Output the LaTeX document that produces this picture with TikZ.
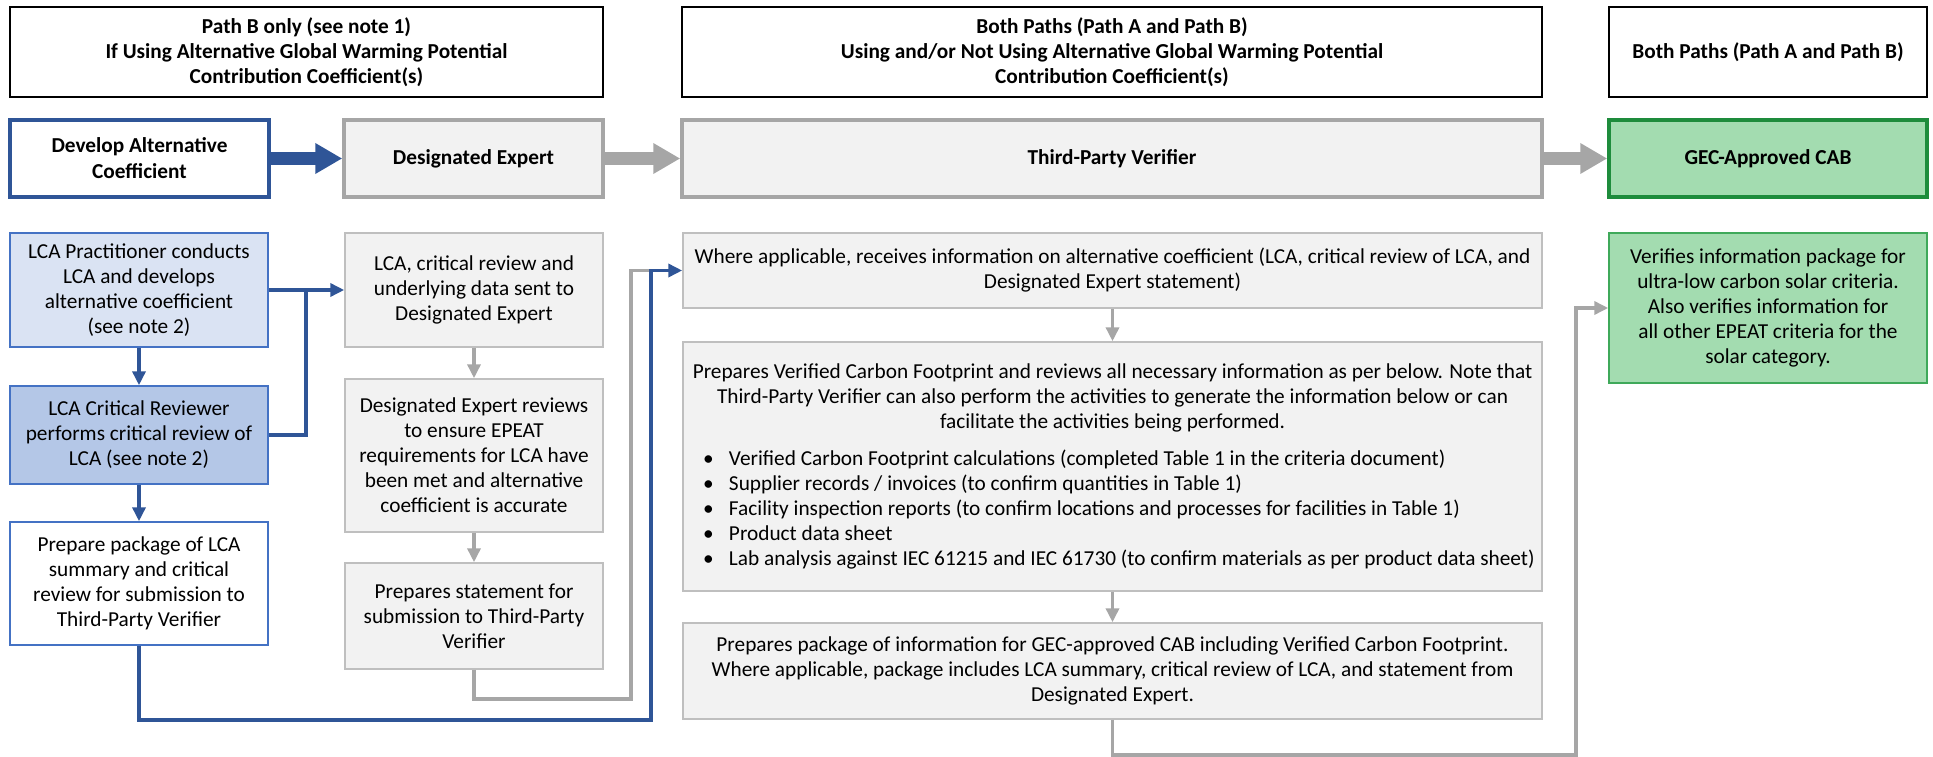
\documentclass[tikz,border=0pt]{standalone}
\usepackage{fontspec}
\setmainfont{Carlito}
\usetikzlibrary{arrows.meta}
\definecolor{dblue}{HTML}{2F5597}
\definecolor{mblue}{HTML}{4472C4}
\definecolor{lblue}{HTML}{DAE3F3}
\definecolor{mfblue}{HTML}{B4C7E7}
\definecolor{gfill}{HTML}{F2F2F2}
\definecolor{gline}{HTML}{BFBFBF}
\definecolor{gthick}{HTML}{A6A6A6}
\definecolor{grfill}{HTML}{A3DCB0}
\definecolor{grdark}{HTML}{1E8C3C}
\definecolor{grmid}{HTML}{3FA95A}
\newcommand\bitem[1]{\makebox[819pt][l]{\makebox[26pt][l]{\textbullet}#1}}
\begin{document}
\begin{tikzpicture}[x=1pt,y=-1pt,
  base/.style={rectangle, inner sep=0pt, align=center, font=\fontsize{21.3}{25}\selectfont},
  hdr/.style={base, draw=black, line width=1.6pt, fill=white, font=\bfseries\fontsize{21.3}{25}\selectfont},
  headblue/.style={base, draw=dblue, line width=3.5pt, fill=white, font=\bfseries\fontsize{21.3}{26}\selectfont},
  headgray/.style={base, draw=gthick, line width=3.5pt, fill=gfill, font=\bfseries\fontsize{21.3}{25}\selectfont},
  headgreen/.style={base, draw=grdark, line width=3.5pt, fill=grfill, font=\bfseries\fontsize{21.3}{25}\selectfont},
  lbbox/.style={base, draw=mblue, line width=1.5pt, fill=lblue},
  mbbox/.style={base, draw=mblue, line width=1.5pt, fill=mfblue},
  wbbox/.style={base, draw=mblue, line width=1.5pt, fill=white},
  graybox/.style={base, draw=gline, line width=1.5pt, fill=gfill},
  greenbox/.style={base, draw=grmid, line width=1.5pt, fill=grfill},
  bigblue/.style={draw=dblue, line width=13pt, -{Triangle[length=27pt,width=29pt]}},
  biggray/.style={draw=gthick, line width=13pt, -{Triangle[length=27pt,width=29pt]}},
  bluearr/.style={draw=dblue, line width=3.5pt, -{Triangle[length=14pt,width=13pt]}},
  blueline/.style={draw=dblue, line width=3.5pt},
  grayarr/.style={draw=gthick, line width=3.5pt, -{Triangle[length=14pt,width=13pt]}},
  grayline/.style={draw=gthick, line width=3.5pt}
]
\useasboundingbox (0,0) rectangle (1933,757);

% header row
\node[hdr, minimum width=593pt, minimum height=90pt] (h1) at (306.5,52) {Path B only (see note 1)\\If Using Alternative Global Warming Potential\\Contribution Coefficient(s)};
\node[hdr, minimum width=860pt, minimum height=90pt] (h2) at (1112,52) {Both Paths (Path A and Path B)\\Using and/or Not Using Alternative Global Warming Potential\\Contribution Coefficient(s)};
\node[hdr, minimum width=318pt, minimum height=90pt] (h3) at (1768,52) {Both Paths (Path A and Path B)};

% role row
\node[headblue, minimum width=259pt, minimum height=77pt] (dev) at (139.5,158.5) {Develop Alternative\\Coefficient};
\node[headgray, minimum width=259pt, minimum height=77pt] (deh) at (473.5,158.5) {Designated Expert};
\node[headgray, minimum width=860pt, minimum height=77pt] (tpvh) at (1112,158.5) {Third-Party Verifier};
\node[headgreen, minimum width=318pt, minimum height=77pt] (cabh) at (1768,158.5) {GEC-Approved CAB};

\draw[bigblue] (dev.east) -- (deh.west);
\draw[biggray] (deh.east) -- (tpvh.west);
\draw[biggray] (tpvh.east) -- (cabh.west);

% left column
\node[lbbox, minimum width=258pt, minimum height=114pt] (prac) at (139,290) {LCA Practitioner conducts\\LCA and develops\\alternative coefficient\\(see note 2)};
\node[mbbox, minimum width=258pt, minimum height=98pt] (rev) at (139,435) {LCA Critical Reviewer\\performs critical review of\\LCA (see note 2)};
\node[wbbox, minimum width=258pt, minimum height=123pt] (prep) at (139,583.5) {Prepare package of LCA\\summary and critical\\review for submission to\\Third-Party Verifier};

% designated expert column
\node[graybox, minimum width=258pt, minimum height=114pt] (de1) at (474,290) {LCA, critical review and\\underlying data sent to\\Designated Expert};
\node[graybox, minimum width=258pt, minimum height=153pt] (de2) at (474,455.5) {Designated Expert reviews\\to ensure EPEAT\\requirements for LCA have\\been met and alternative\\coefficient is accurate};
\node[graybox, minimum width=258pt, minimum height=106pt] (de3) at (474,616) {Prepares statement for\\submission to Third-Party\\Verifier};

% third-party verifier column
\node[graybox, minimum width=859pt, minimum height=75pt] (tpv1) at (1112.5,270.5) {Where applicable, receives information on alternative coefficient (LCA, critical review of LCA, and\\Designated Expert statement)};
\node[graybox, minimum width=859pt, minimum height=249pt] (tpv2) at (1112.5,466.5) {Prepares Verified Carbon Footprint and reviews all necessary information as per below. Note that\\Third-Party Verifier can also perform the activities to generate the information below or can\\facilitate the activities being performed.\\[12pt]
\bitem{Verified Carbon Footprint calculations (completed Table 1 in the criteria document)}\\
\bitem{Supplier records / invoices (to confirm quantities in Table 1)}\\
\bitem{Facility inspection reports (to confirm locations and processes for facilities in Table 1)}\\
\bitem{Product data sheet}\\
\bitem{Lab analysis against IEC 61215 and IEC 61730 (to confirm materials as per product data sheet)}};
\node[graybox, minimum width=859pt, minimum height=96pt] (tpv3) at (1112.5,671) {Prepares package of information for GEC-approved CAB including Verified Carbon Footprint.\\Where applicable, package includes LCA summary, critical review of LCA, and statement from\\Designated Expert.};

% CAB column
\node[greenbox, minimum width=318pt, minimum height=150pt] (cabt) at (1768,308) {Verifies information package for\\ultra-low carbon solar criteria.\\Also verifies information for\\all other EPEAT criteria for the\\solar category.};

% helper coordinates
\coordinate (ja) at (306,290);
\coordinate (gl) at (631,699);
\coordinate (bl) at (651,720);
\coordinate (gr) at (1576,755);

% left column connectors
\draw[bluearr] (prac.south) -- (rev.north);
\draw[bluearr] (rev.south) -- (prep.north);
\draw[blueline] (rev.east) -| (ja);
\draw[bluearr] (prac.east) -- (de1.west);

% designated expert connectors
\draw[grayarr] (de1.south) -- (de2.north);
\draw[grayarr] (de2.south) -- (de3.north);
\draw[grayline] (de3.south) -- (de3.south |- gl) -- (gl) -- (gl |- tpv1.west) -- (bl |- tpv1.west);

% blue path to TPV
\draw[bluearr] (prep.south) -- (prep.south |- bl) -- (bl) -- (bl |- tpv1.west) -- (tpv1.west);

% TPV connectors
\draw[grayarr] (tpv1.south) -- (tpv2.north);
\draw[grayarr] (tpv2.south) -- (tpv3.north);
\draw[grayarr] (tpv3.south) -- (tpv3.south |- gr) -- (gr) -- (gr |- cabt.west) -- (cabt.west);
\end{tikzpicture}
\end{document}
